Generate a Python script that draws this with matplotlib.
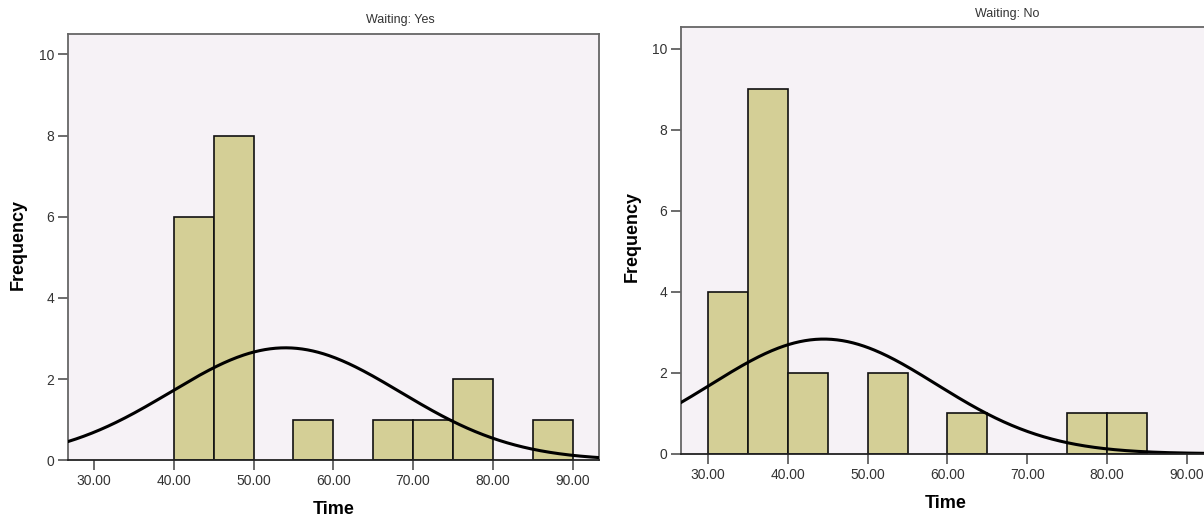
import numpy as np
import matplotlib
matplotlib.use('Agg')
import matplotlib.pyplot as plt
from matplotlib.ticker import FormatStrFormatter

plt.rcParams['font.family'] = ['Liberation Sans', 'DejaVu Sans']

# histogram bins (left edge of each bin, width 5) and counts
bin_width = 5
yes_left = [40, 45, 55, 65, 70, 75, 85]
yes_count = [6, 8, 1, 1, 1, 2, 1]
no_left = [30, 35, 40, 50, 60, 75, 80]
no_count = [4, 9, 2, 2, 1, 1, 1]

# fitted normal curves (mean, std dev, N)
yes_mean, yes_sd, yes_n = 54.0, 14.4, 20
no_mean, no_sd, no_n = 44.5, 14.1, 20

xticks = [30, 40, 50, 60, 70, 80, 90]
yticks = [0, 2, 4, 6, 8, 10]

bg = '#f6f2f6'
barcol = '#d4cf96'
frame = '#666666'

fig = plt.figure(figsize=(12.04, 5.21), dpi=100)
ax1 = fig.add_axes([68/1204, 1-460.3/521, 531/1204, 426.3/521])
ax2 = fig.add_axes([681/1204, 1-453.7/521, 532/1204, 427/521])


def draw(ax, left, count, mu, sd, n, xlim, ylim):
    ax.set_facecolor(bg)
    ax.bar(left, count, width=bin_width, align='edge', color=barcol,
           edgecolor='#111111', linewidth=1.2, zorder=2)
    xs = np.linspace(xlim[0], xlim[1], 400)
    ys = n * bin_width * np.exp(-0.5*((xs-mu)/sd)**2) / (sd*np.sqrt(2*np.pi))
    ax.plot(xs, ys, color='black', linewidth=2.2, zorder=3)
    ax.set_xlim(xlim)
    ax.set_ylim(ylim)
    ax.set_xticks(xticks)
    ax.set_yticks(yticks)
    ax.xaxis.set_major_formatter(FormatStrFormatter('%.2f'))
    ax.tick_params(length=7, width=1.1, color='#444444', labelsize=10,
                   labelcolor='#333333', pad=3)
    for s in ['left', 'top', 'right']:
        ax.spines[s].set_color(frame)
        ax.spines[s].set_linewidth(1.3)
    ax.spines['bottom'].set_color('#222222')
    ax.spines['bottom'].set_linewidth(1.3)
    ax.spines['bottom'].set_zorder(4)


draw(ax1, yes_left, yes_count, yes_mean, yes_sd, yes_n, (26.74, 93.3), (0, 10.5))
draw(ax2, no_left, no_count, no_mean, no_sd, no_n, (26.6, 93.3), (0, 10.54))

fig.text(400/1204, 1-20/521, 'Waiting: Yes', ha='center', va='center',
         fontsize=9, color='#333333')
fig.text(1007/1204, 1-14/521, 'Waiting: No', ha='center', va='center',
         fontsize=9, color='#333333')

fig.text(18/1204, 1-245/521, 'Frequency', rotation=90, ha='center', va='center',
         fontsize=13, fontweight='bold')
fig.text(632/1204, 1-236/521, 'Frequency', rotation=90, ha='center', va='center',
         fontsize=13, fontweight='bold')
fig.text(334/1204, 1-510/521, 'Time', ha='center', va='center',
         fontsize=13, fontweight='bold')
fig.text(946/1204, 1-503/521, 'Time', ha='center', va='center',
         fontsize=13, fontweight='bold')

fig.savefig('out.png', dpi=100)
